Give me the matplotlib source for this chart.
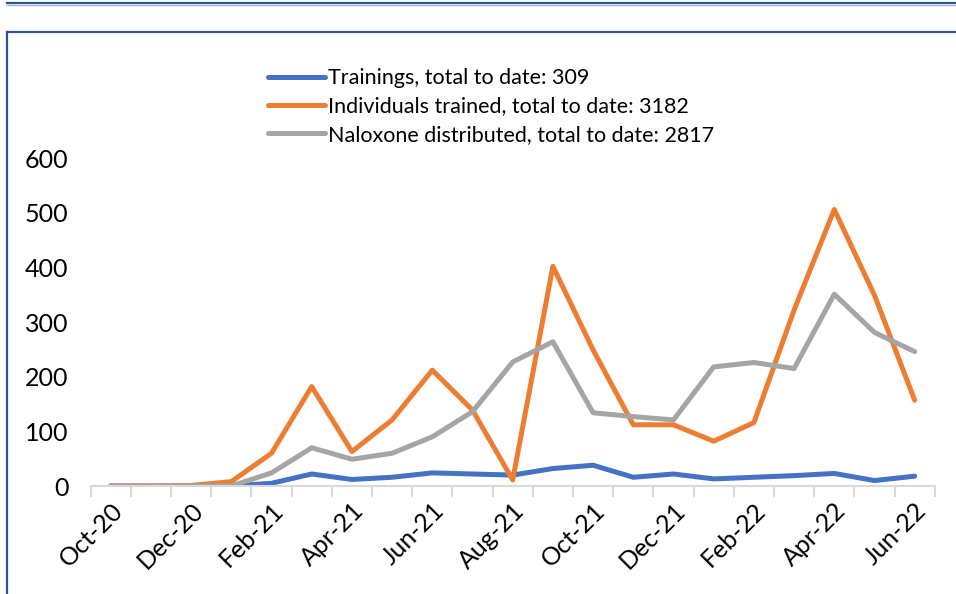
import matplotlib
matplotlib.use("Agg")
from matplotlib import pyplot as plt
from matplotlib.lines import Line2D

months = ["Oct-20", "Nov-20", "Dec-20", "Jan-21", "Feb-21", "Mar-21", "Apr-21",
          "May-21", "Jun-21", "Jul-21", "Aug-21", "Sep-21", "Oct-21", "Nov-21",
          "Dec-21", "Jan-22", "Feb-22", "Mar-22", "Apr-22", "May-22", "Jun-22"]
trainings = [0, 0, 0, 0, 5, 22, 12, 16, 24, 22, 20, 32, 38, 16, 22, 13, 16, 19, 23, 10, 18]
individuals = [0, 0, 1, 8, 60, 182, 63, 121, 212, 139, 11, 402, 249, 112, 112, 82, 116, 322, 506, 349, 157]
naloxone = [0, 0, 0, 0, 24, 70, 49, 60, 90, 136, 227, 264, 134, 127, 121, 218, 226, 215, 351, 281, 246]

labels = ["Trainings, total to date: 309",
          "Individuals trained, total to date: 3182",
          "Naloxone distributed, total to date: 2817"]

plt.rcParams['font.family'] = ['Lato', 'DejaVu Sans']

fig = plt.figure(figsize=(9.56, 5.94), dpi=100)
ax = fig.add_axes([0.0948, 0.1818, 0.883, 0.552])

x = range(len(months))
ax.plot(x, trainings, color="#4472C4", lw=3.6, solid_capstyle="round", label=labels[0])
ax.plot(x, individuals, color="#ED7D31", lw=3.6, solid_capstyle="round", label=labels[1])
ax.plot(x, naloxone, color="#A5A5A5", lw=3.6, solid_capstyle="round", label=labels[2])

ax.set_xlim(-0.5, len(months) - 0.5)
ax.set_ylim(0, 600)
ax.set_yticks(range(0, 601, 100))
ax.tick_params(axis="y", length=0, labelsize=18, pad=16)

# tick marks between categories, labels on every second month
ax.set_xticks([i - 0.5 for i in range(len(months) + 1)], minor=False)
ax.set_xticklabels([])
ax.set_xticks(list(range(0, len(months), 2)), minor=True)
ax.set_xticklabels(months[::2], minor=True, rotation=45, ha="right",
                   rotation_mode="anchor", fontsize=18)
ax.tick_params(axis="x", which="major", length=8, color="#D9D9D9", width=1.5)
ax.tick_params(axis="x", which="minor", length=0, pad=9)

for s in ["top", "right", "left"]:
    ax.spines[s].set_visible(False)
ax.spines["bottom"].set_color("#D9D9D9")
ax.spines["bottom"].set_linewidth(1.5)

ax.legend(loc="upper left", bbox_to_anchor=(0.2, 1.30), frameon=False,
          fontsize=15.5, handlelength=2.65, handletextpad=0.12, labelspacing=0.38,
          borderaxespad=0)

# page decorations: top rule and frame
fig.add_artist(Line2D([0.007, 1.0], [0.995, 0.995], color="#2F5496", lw=1.6))
fig.add_artist(Line2D([0.007, 1.0], [0.991, 0.991], color="#9DB3D9", lw=1.0))
fig.add_artist(Line2D([0.007, 1.0], [0.946, 0.946], color="#2F5496", lw=1.6))
fig.add_artist(Line2D([0.007, 0.007], [0.0, 0.946], color="#2F5496", lw=1.6))

plt.savefig("out.png", dpi=100)
